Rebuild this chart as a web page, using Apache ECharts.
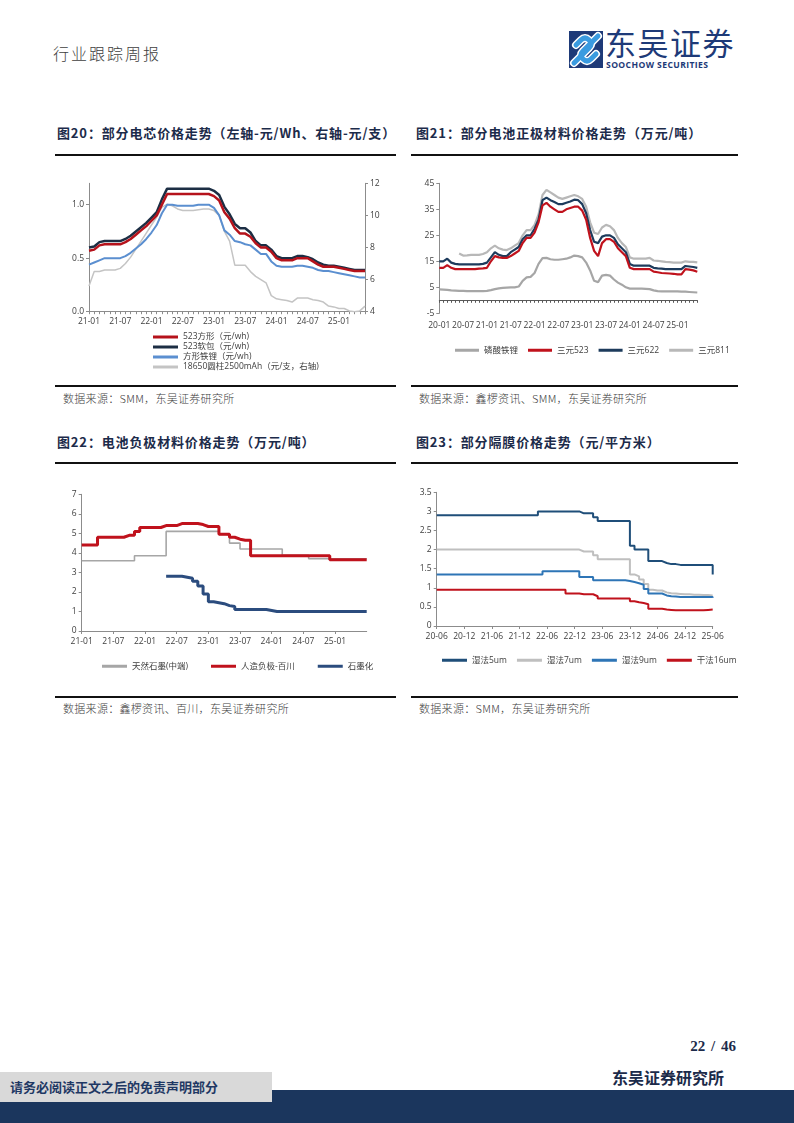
<!DOCTYPE html>
<html><head><meta charset="utf-8">
<script src="https://cdn.jsdelivr.net/npm/echarts@6/dist/echarts.min.js"></script>
<style>
body{margin:0;width:794px;height:1123px;position:relative;background:#fff;overflow:hidden;font-family:'Noto Sans CJK SC',sans-serif;}
.a{position:absolute;white-space:nowrap;}
.hdr{left:53px;top:41px;font-size:16px;color:#404040;font-weight:300;letter-spacing:2px;}
.title{font-size:13px;font-weight:bold;color:#1c2b4a;letter-spacing:0.85px;}
.rule{height:2px;background:#111;}
.src{font-size:11px;color:#404040;font-weight:300;letter-spacing:0.3px;}
.chart{position:absolute;}
</style></head>
<body>
<div class="a hdr">行业跟踪周报</div>
<svg class="a" style="left:569px;top:31px" width="34" height="37" viewBox="0 0 34 37">
  <rect x="0" y="0" width="34" height="37" fill="#1e3a78"/>
  <path d="M29 5 L14 20 Q10 24 14 28 Q18 32 22 28 L27 23" stroke="#fff" stroke-width="8" fill="none" stroke-linecap="round"/>
  <path d="M5 32 L20 17 Q24 13 20 9 Q16 5 12 9 L7 14" stroke="#fff" stroke-width="8" fill="none" stroke-linecap="round"/>
  <path d="M29 5 L14 20 Q10 24 14 28 Q18 32 22 28 L27 23" stroke="#3a9be0" stroke-width="5" fill="none" stroke-linecap="round"/>
  <path d="M5 32 L20 17 Q24 13 20 9 Q16 5 12 9 L7 14" stroke="#3a9be0" stroke-width="5" fill="none" stroke-linecap="round"/>
</svg>
<div class="a" style="left:605px;top:24px;font-size:31px;color:#1e3a78;letter-spacing:1.5px;line-height:36px;">东吴证券</div>
<div class="a" style="left:606px;top:59px;font-size:8.6px;font-weight:bold;color:#1e3a78;font-family:'Open Sans',sans-serif;letter-spacing:0.4px;">SOOCHOW SECURITIES</div>

<div class="a title" style="left:57px;top:123px;">图20：部分电芯价格走势（左轴-元/Wh、右轴-元/支）</div>
<div class="a title" style="left:416px;top:123px;">图21：部分电池正极材料价格走势（万元/吨）</div>
<div class="a rule" style="left:55px;top:154px;width:341px;"></div>
<div class="a rule" style="left:411px;top:154px;width:327px;"></div>
<div id="c1" class="chart" style="left:55px;top:170px;width:345px;height:210px;"></div>
<div id="c2" class="chart" style="left:412px;top:170px;width:330px;height:200px;"></div>
<div class="a rule" style="left:55px;top:385px;width:341px;"></div>
<div class="a rule" style="left:411px;top:385px;width:327px;"></div>
<div class="a src" style="left:63px;top:390px;">数据来源：SMM，东吴证券研究所</div>
<div class="a src" style="left:419px;top:390px;">数据来源：鑫椤资讯、SMM，东吴证券研究所</div>

<div class="a title" style="left:57px;top:432px;">图22：电池负极材料价格走势（万元/吨）</div>
<div class="a title" style="left:416px;top:432px;">图23：部分隔膜价格走势（元/平方米）</div>
<div class="a rule" style="left:55px;top:462px;width:341px;"></div>
<div class="a rule" style="left:411px;top:462px;width:327px;"></div>
<div id="c3" class="chart" style="left:55px;top:480px;width:335px;height:195px;"></div>
<div id="c4" class="chart" style="left:412px;top:480px;width:330px;height:195px;"></div>
<div class="a rule" style="left:55px;top:696px;width:341px;"></div>
<div class="a rule" style="left:411px;top:696px;width:327px;"></div>
<div class="a src" style="left:63px;top:700px;">数据来源：鑫椤资讯、百川，东吴证券研究所</div>
<div class="a src" style="left:419px;top:700px;">数据来源：SMM，东吴证券研究所</div>

<div class="a" style="right:58px;top:1038px;font-size:15px;font-weight:bold;color:#1c2b4a;font-family:'Liberation Serif',serif;word-spacing:2px;">22 / 46</div>
<div class="a" style="left:612px;top:1065px;font-size:16px;font-weight:bold;color:#1c2b4a;">东吴证券研究所</div>
<div class="a" style="left:0;top:1090px;width:794px;height:33px;background:#1b365d;"></div>
<div class="a" style="left:0;top:1072px;width:272px;height:30px;background:#d9d9d9;"></div>
<div class="a" style="left:10px;top:1077px;font-size:13px;font-weight:bold;color:#1f3864;">请务必阅读正文之后的免责声明部分</div>

<script>
// ---------- data ----------
function monthLabels(y, m, n) { var out = []; for (var i = 0; i < n; i++) { out.push(String(y) + '-' + (m < 10 ? '0' : '') + m); m++; if (m > 12) { m = 1; y++; } } return out; }

// 图20 (2021-01 .. 2025-06, monthly)
var cat1 = monthLabels(21, 1, 54);
var cell523Square = [0.57,0.58,0.62,0.63,0.63,0.63,0.63,0.65,0.68,0.72, 0.76,0.80,0.85,0.90,1.00,1.10,1.10,1.10,1.10,1.10, 1.10,1.10,1.10,1.10,1.08,1.04,0.93,0.87,0.78,0.73, 0.73,0.70,0.64,0.60,0.60,0.56,0.50,0.48,0.48,0.48, 0.50,0.50,0.50,0.47,0.44,0.42,0.42,0.42,0.41,0.40, 0.39,0.38,0.38,0.38];
var cell523Pouch = [0.60,0.61,0.65,0.66,0.66,0.66,0.66,0.68,0.71,0.75, 0.79,0.83,0.88,0.93,1.05,1.15,1.15,1.15,1.15,1.15, 1.15,1.15,1.15,1.15,1.13,1.09,0.98,0.91,0.82,0.78, 0.78,0.74,0.66,0.62,0.62,0.58,0.52,0.50,0.50,0.50, 0.52,0.52,0.51,0.49,0.46,0.44,0.43,0.43,0.42,0.41, 0.40,0.39,0.39,0.39];
var cellLfpSquare = [0.44,0.46,0.48,0.50,0.50,0.50,0.50,0.52,0.55,0.59, 0.63,0.68,0.74,0.81,0.92,1.00,1.00,0.99,0.99,0.99, 0.99,1.00,1.00,1.00,0.97,0.90,0.76,0.72,0.66,0.65, 0.63,0.62,0.58,0.54,0.54,0.47,0.43,0.42,0.42,0.42, 0.43,0.43,0.42,0.41,0.39,0.38,0.38,0.37,0.36,0.35, 0.34,0.33,0.32,0.32];
var cell18650 = [5.6,6.5,6.5,6.6,6.6,6.6,6.7,7.0,7.4,7.9, 8.4,8.9,9.4,9.9,10.5,10.7,10.6,10.4,10.3,10.3, 10.3,10.35,10.4,10.4,10.3,10.0,9.0,8.4,6.9,6.9, 6.9,6.5,6.2,6.0,5.8,5.0,4.8,4.75,4.7,4.6, 4.85,4.85,4.85,4.75,4.7,4.6,4.35,4.3,4.2,4.2, 4.05,4.0,4.05,4.35];

// 图21 (2020-01 .. 2025-06, monthly)
var cat2 = monthLabels(20, 1, 66);
var yTicks2 = [-5, 5, 15, 25, 35, 45];
var lfp2 = [4.2,4.1,4.0,3.8,3.7,3.6,3.6,3.5,3.5,3.5, 3.5,3.5,3.6,3.9,4.3,4.6,4.8,4.9,5.0,5.0, 5.3,7.5,8.8,9.0,10.5,14.0,16.2,16.3,15.8,15.6, 15.6,15.8,16.0,16.5,17.2,17.0,16.5,14.5,11.5,7.5, 7.0,9.5,9.8,9.5,8.0,6.8,6.0,5.0,4.5,4.5, 4.5,4.5,4.4,4.3,3.8,3.5,3.4,3.4,3.4,3.4, 3.4,3.3,3.3,3.2,3.1,3.0];
var ncm523 = [12.5,12.5,13.5,12.5,12.0,12.0,12.0,12.0,12.0,12.0, 12.2,12.3,12.5,15.0,17.0,16.5,16.3,16.3,17.0,18.0, 19.0,22.0,24.0,24.0,26.0,30.0,36.5,37.5,36.0,35.0, 34.0,34.0,35.0,35.5,36.0,36.0,34.5,31.0,24.0,19.0, 17.0,22.0,23.5,23.5,22.5,20.0,18.5,17.0,12.5,12.0, 12.0,12.0,12.0,12.0,11.0,10.8,10.5,10.4,10.3,10.2, 10.0,10.0,12.0,11.8,11.5,11.0];
var ncm622 = [15.0,15.0,16.0,14.5,14.0,13.8,13.8,13.8,13.8,13.8, 13.8,14.0,14.5,16.5,18.5,17.5,17.0,17.0,18.5,19.5, 20.5,23.5,25.0,25.0,27.5,31.0,38.5,39.5,38.5,37.8, 37.0,37.0,37.5,38.0,38.7,38.5,37.0,33.5,27.0,22.5, 22.0,24.5,25.0,25.0,24.0,21.5,20.0,18.5,14.0,13.3, 13.3,13.3,13.3,13.3,12.5,12.3,12.2,12.0,12.0,12.0, 12.0,12.0,13.2,13.0,12.8,12.5];
var ncm811 = [null,null,null,null,null,18.0,17.2,17.3,17.5,17.5, 17.5,17.8,18.5,20.0,21.0,20.0,19.5,19.3,20.0,21.0, 22.0,25.0,27.0,27.0,29.0,33.0,40.5,42.5,41.5,40.5, 39.5,39.0,39.5,40.0,40.5,40.0,39.0,36.0,30.0,26.0, 25.5,28.0,29.0,28.5,27.0,24.0,22.0,20.5,16.5,16.0, 16.0,16.0,16.0,16.3,15.3,15.2,15.0,14.8,14.7,14.5, 14.5,14.5,15.0,14.8,14.8,14.6];

// 图22 (2021-01 .. 2025-07, monthly)
var cat3 = monthLabels(21, 1, 55);
var naturalGraphite = [3.6,3.6,3.6,3.6,3.6,3.6,3.6,3.6,3.6,3.6, 3.85,3.85,3.85,3.85,3.85,3.85,5.1,5.1,5.1,5.1, 5.1,5.1,5.1,5.1,5.1,5.1,4.95,4.9,4.5,4.5, 4.2,4.2,4.2,4.2,4.2,4.2,4.2,4.2,3.88,3.88, 3.88,3.88,3.88,3.7,3.7,3.7,3.7,3.7,3.7,3.7, 3.7,3.7,3.7,3.7,3.7];
var artificialAnode = [4.4,4.4,4.4,4.8,4.8,4.8,4.8,4.8,4.9,4.9, 5.1,5.3,5.3,5.3,5.3,5.4,5.4,5.4,5.5,5.5, 5.5,5.5,5.45,5.35,5.35,5.35,4.95,4.95,4.8,4.7, 4.65,4.65,3.85,3.85,3.85,3.85,3.85,3.85,3.85,3.85, 3.85,3.85,3.85,3.85,3.85,3.85,3.85,3.65,3.65,3.65, 3.65,3.65,3.65,3.65,3.65];
var graphitization = [null,null,null,null,null,null,null,null,null,null, null,null,null,null,null,null,2.8,2.8,2.8,2.75, 2.7,2.55,2.3,1.9,1.5,1.45,1.4,1.3,1.25,1.1, 1.1,1.1,1.1,1.1,1.1,1.05,1.0,1.0,1.0,1.0, 1.0,1.0,1.0,1.0,1.0,1.0,1.0,1.0,1.0,1.0, 1.0,1.0,1.0,1.0,1.0];

// 图23 (2020-06 .. 2025-06, monthly)
var cat4 = monthLabels(20, 6, 61);
var wet5 = [2.9,2.9,2.9,2.9,2.9,2.9,2.9,2.9,2.9,2.9, 2.9,2.9,2.9,2.9,2.9,2.9,2.9,2.9,2.9,2.9, 2.9,2.9,3.0,3.0,3.0,3.0,3.0,3.0,3.0,3.0, 3.0,2.95,2.95,2.95,2.85,2.75,2.75,2.75,2.75,2.75, 2.75,2.75,2.1,2.0,2.0,2.0,1.7,1.7,1.7,1.65, 1.62,1.62,1.6,1.6,1.6,1.6,1.6,1.6,1.6,1.6, 1.35];
var wet7 = [2.0,2.0,2.0,2.0,2.0,2.0,2.0,2.0,2.0,2.0, 2.0,2.0,2.0,2.0,2.0,2.0,2.0,2.0,2.0,2.0, 2.0,2.0,2.0,2.0,2.0,2.0,2.0,2.0,2.0,2.0, 2.0,1.95,1.95,1.95,1.85,1.75,1.75,1.75,1.75,1.75, 1.75,1.75,1.35,1.3,1.22,1.1,0.95,0.93,0.93,0.88, 0.86,0.85,0.84,0.83,0.83,0.82,0.82,0.81,0.81,0.8, 0.8];
var wet9 = [1.35,1.35,1.35,1.35,1.35,1.35,1.35,1.35,1.35,1.35, 1.35,1.35,1.35,1.35,1.35,1.35,1.35,1.35,1.35,1.35, 1.35,1.35,1.35,1.43,1.43,1.43,1.43,1.43,1.43,1.43, 1.43,1.28,1.28,1.28,1.2,1.2,1.2,1.2,1.2,1.2, 1.2,1.18,1.15,1.12,1.08,0.97,0.85,0.85,0.85,0.8, 0.78,0.77,0.76,0.76,0.76,0.76,0.76,0.76,0.76,0.76, 0.74];
var dry16 = [0.95,0.95,0.95,0.95,0.95,0.95,0.95,0.95,0.95,0.95, 0.95,0.95,0.95,0.95,0.95,0.95,0.95,0.95,0.95,0.95, 0.95,0.95,0.95,0.95,0.95,0.95,0.95,0.95,0.85,0.85, 0.85,0.83,0.83,0.83,0.78,0.72,0.72,0.72,0.72,0.72, 0.72,0.72,0.65,0.62,0.6,0.57,0.45,0.45,0.45,0.43, 0.42,0.41,0.41,0.41,0.41,0.41,0.41,0.41,0.42,0.43, 0.44];

// ---------- styles ----------
var AX = '#8c8c8c', LBL = '#404040';
var FF = "'Open Sans','Noto Sans CJK SC',sans-serif";
function lbl(extra) { var o = { color: LBL, fontSize: 8.5, fontFamily: FF }; for (var k in extra) o[k] = extra[k]; return o; }
function line(name, data, color, width, extra) {
  var s = { name: name, type: 'line', data: data, symbol: 'none', showSymbol: false, connectNulls: false,
    lineStyle: { color: color, width: width }, itemStyle: { color: color }, emphasis: { disabled: true } };
  for (var k in extra) s[k] = extra[k];
  return s;
}
function legendBase(extra) {
  var o = { icon: 'rect', itemWidth: 25, itemHeight: 3, textStyle: { color: LBL, fontSize: 8.5, fontFamily: FF } };
  for (var k in extra) o[k] = extra[k];
  return o;
}
function valAxis(extra) {
  var o = { type: 'value', axisLine: { show: true, lineStyle: { color: AX } }, axisTick: { show: true, length: 3, lineStyle: { color: AX } },
    axisLabel: lbl({ margin: 5 }), splitLine: { show: false } };
  for (var k in extra) o[k] = extra[k];
  return o;
}

// ---------- chart 1 ----------
echarts.init(document.getElementById('c1')).setOption({
  animation: false,
  grid: { left: 34, top: 13.3, width: 276, height: 128.4 },
  legend: legendBase({ orient: 'vertical', left: 93, top: 157, itemGap: 0, textStyle: { color: LBL, fontSize: 8.5, lineHeight: 10, fontFamily: FF },
    data: ['523方形（元/wh)', '523软包（元/wh)', '方形铁锂（元/wh)', '18650圆柱2500mAh（元/支，右轴)'] }),
  xAxis: { type: 'category', data: cat1, boundaryGap: false,
    axisLine: { onZero: false, lineStyle: { color: AX } }, axisTick: { interval: 0, length: 2.5, lineStyle: { color: AX } },
    axisLabel: lbl({ interval: 5, margin: 6 }) },
  yAxis: [
    valAxis({ min: 0, max: 1.2, interval: 0.5, axisLabel: lbl({ margin: 5, showMaxLabel: false, formatter: function (v) { return v.toFixed(1); } }) }),
    valAxis({ min: 4, max: 12, interval: 2, position: 'right' })
  ],
  series: [
    line('18650圆柱2500mAh（元/支，右轴)', cell18650, '#c4c4c4', 1.5, { yAxisIndex: 1 }),
    line('方形铁锂（元/wh)', cellLfpSquare, '#5b8fd0', 2),
    line('523软包（元/wh)', cell523Pouch, '#1c2e44', 2.5),
    line('523方形（元/wh)', cell523Square, '#b5121b', 2.5)
  ]
});

// ---------- chart 2 ----------
echarts.init(document.getElementById('c2')).setOption({
  animation: false,
  grid: { left: 27.3, top: 13.3, width: 258, height: 130 },
  legend: legendBase({ left: 38, top: 171, itemGap: 10, itemWidth: 24, data: ['磷酸铁锂', '三元523', '三元622', '三元811'] }),
  xAxis: [
    { type: 'category', data: cat2, boundaryGap: false, axisLine: { show: false, onZero: false }, axisTick: { show: false },
      axisLabel: lbl({ interval: 5, margin: 8, fontSize: 8.5 }) },
    { type: 'category', data: cat2, boundaryGap: false, position: 'bottom',
      axisLine: { show: true, onZero: true, lineStyle: { color: '#595959' } }, axisTick: { interval: 0, length: 2.5, lineStyle: { color: '#595959' } },
      axisLabel: { show: false } }
  ],
  yAxis: valAxis({ min: -5, max: 45, interval: 10,
    axisLabel: lbl({ margin: 5, customValues: yTicks2 }), axisTick: { show: true, length: 3, lineStyle: { color: AX }, customValues: yTicks2 } }),
  series: [
    line('三元811', ncm811, '#b8b8b8', 2.2),
    line('磷酸铁锂', lfp2, '#a6a6a6', 2.2),
    line('三元622', ncm622, '#1d3b5c', 2.2),
    line('三元523', ncm523, '#c0121c', 2.2)
  ]
});

// ---------- chart 3 ----------
echarts.init(document.getElementById('c3')).setOption({
  animation: false,
  grid: { left: 26.7, top: 14.3, width: 285, height: 136.7 },
  legend: legendBase({ left: 42, top: 177, itemGap: 23, data: ['天然石墨(中端)', '人造负极-百川', '石墨化'] }),
  xAxis: { type: 'category', data: cat3, boundaryGap: false,
    axisLine: { onZero: false, lineStyle: { color: AX } },
    axisTick: { interval: function (i) { return i % 6 === 0 && i < 54; }, length: 3, lineStyle: { color: AX } },
    axisLabel: lbl({ interval: function (i) { return i % 6 === 0 && i < 54; }, margin: 6 }) },
  yAxis: valAxis({ min: 0, max: 7, interval: 1 }),
  series: [
    line('天然石墨(中端)', naturalGraphite, '#a6a6a6', 1.6, { step: 'end' }),
    line('石墨化', graphitization, '#2b4c7e', 3, { step: 'end' }),
    line('人造负极-百川', artificialAnode, '#c0121c', 3, { step: 'end' })
  ]
});

// ---------- chart 4 ----------
echarts.init(document.getElementById('c4')).setOption({
  animation: false,
  grid: { left: 24.7, top: 12.3, width: 276, height: 133.7 },
  legend: legendBase({ left: 25, top: 171, itemGap: 10, data: ['湿法5um', '湿法7um', '湿法9um', '干法16um'] }),
  xAxis: { type: 'category', data: cat4, boundaryGap: false,
    axisLine: { onZero: false, lineStyle: { color: AX } }, axisTick: { interval: 5, length: 3, lineStyle: { color: AX } },
    axisLabel: lbl({ interval: 5, margin: 6 }) },
  yAxis: valAxis({ min: 0, max: 3.5, interval: 0.5 }),
  series: [
    line('湿法7um', wet7, '#bfbfbf', 2, { step: 'end' }),
    line('干法16um', dry16, '#c0121c', 2, { step: 'end' }),
    line('湿法9um', wet9, '#2e75b6', 2, { step: 'end' }),
    line('湿法5um', wet5, '#1f4e79', 2, { step: 'end' })
  ]
});
</script>
</body></html>
